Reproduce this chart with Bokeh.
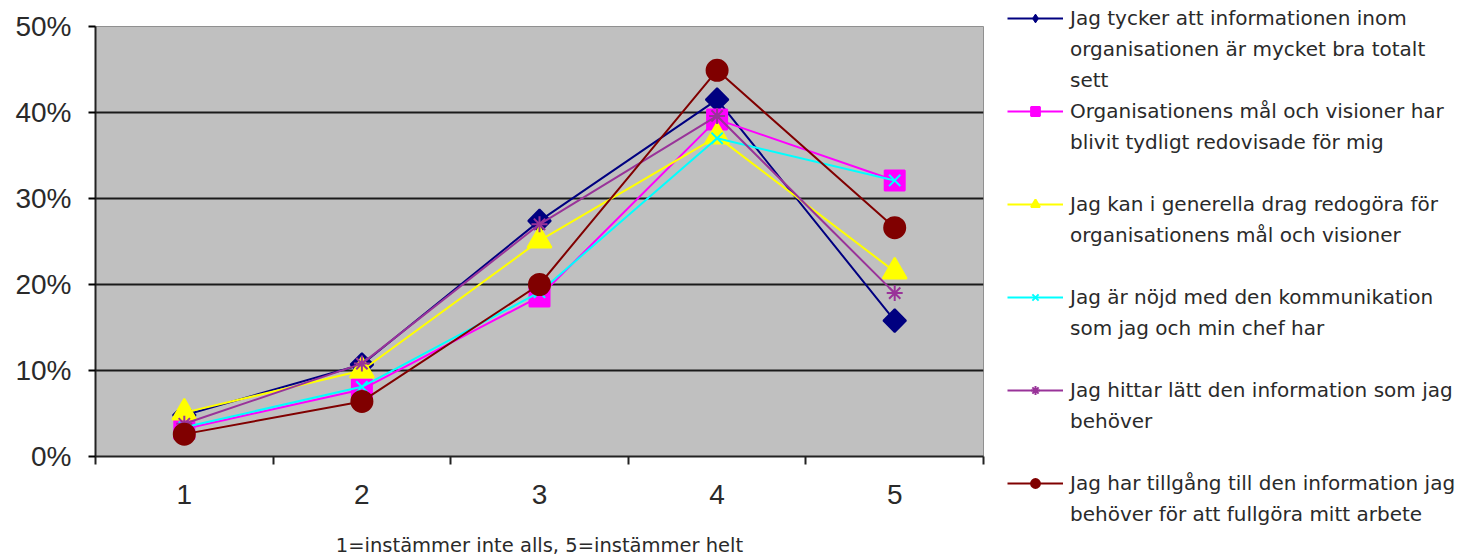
from bokeh.plotting import figure
from bokeh.models import (Range1d, FixedTicker, NumeralTickFormatter, Legend, LegendItem)
from bokeh.embed import file_html
from bokeh.resources import INLINE

categories = [1, 2, 3, 4, 5]
tick_labels = ["1", "2", "3", "4", "5"]

s1 = [0.048, 0.107, 0.274, 0.415, 0.158]
s2 = [0.032, 0.078, 0.186, 0.392, 0.321]
s3 = [0.051, 0.100, 0.251, 0.372, 0.215]
s4 = [0.034, 0.081, 0.191, 0.370, 0.321]
s5 = [0.038, 0.108, 0.270, 0.396, 0.190]
s6 = [0.026, 0.064, 0.200, 0.449, 0.266]

labels = [
    ["Jag tycker att informationen inom", "organisationen är mycket bra totalt", "sett"],
    ["Organisationens mål och visioner har", "blivit tydligt redovisade för mig"],
    ["Jag kan i generella drag redogöra för", "organisationens mål och visioner"],
    ["Jag är nöjd med den kommunikation", "som jag och min chef har"],
    ["Jag hittar lätt den information som jag", "behöver"],
    ["Jag har tillgång till den information jag", "behöver för att fullgöra mitt arbete"],
]

TICK_FONT = "Liberation Sans"
TEXT_FONT = "DejaVu Sans"

W, H = 1464, 555
FRAME_L, FRAME_T, FRAME_W, FRAME_H = 95, 26, 888, 430

p = figure(frame_width=FRAME_W, frame_height=FRAME_H, output_backend="svg", toolbar_location=None,
           x_range=Range1d(0.5, 5.5), y_range=Range1d(0, 0.5),
           min_border_left=FRAME_L, min_border_top=FRAME_T, min_border_bottom=4,
           min_border_right=0)
p.background_fill_color = "#C0C0C0"
p.border_fill_color = "white"
p.outline_line_color = "#909090"
p.outline_line_width = 1

p.xgrid.grid_line_color = None
p.ygrid.grid_line_color = "#1a1a1a"
p.ygrid.grid_line_width = 2
p.ygrid.ticker = FixedTicker(ticks=[0.1, 0.2, 0.3, 0.4, 0.5])

p.yaxis.ticker = FixedTicker(ticks=[0, 0.1, 0.2, 0.3, 0.4, 0.5])
p.yaxis.formatter = NumeralTickFormatter(format="0%")
p.yaxis.major_tick_out = 7
p.yaxis.major_tick_in = 0
p.yaxis.minor_tick_line_color = None
p.yaxis.axis_line_width = 2
p.yaxis.major_tick_line_width = 2
p.yaxis.axis_line_color = "#222222"
p.yaxis.major_label_text_font = TICK_FONT
p.yaxis.major_label_text_font_size = "28px"
p.yaxis.major_label_text_color = "#2a2a2a"
p.yaxis.major_label_standoff = 17

p.xaxis.ticker = FixedTicker(ticks=categories, minor_ticks=[0.5, 1.5, 2.5, 3.5, 4.5, 5.5])
p.xaxis.major_label_overrides = {c: t for c, t in zip(categories, tick_labels)}
p.xaxis.major_tick_line_color = None
p.xaxis.minor_tick_out = 8
p.xaxis.minor_tick_in = 0
p.xaxis.minor_tick_line_width = 2
p.xaxis.minor_tick_line_color = "#222222"
p.xaxis.axis_line_width = 2
p.xaxis.axis_line_color = "#222222"
p.xaxis.major_label_text_font = TICK_FONT
p.xaxis.major_label_text_font_size = "28px"
p.xaxis.major_label_text_color = "#2a2a2a"
p.xaxis.major_label_standoff = 20
p.xaxis.axis_label = "1=instämmer inte alls, 5=instämmer helt"
p.xaxis.axis_label_text_font = TEXT_FONT
p.xaxis.axis_label_text_font_size = "19.5px"
p.xaxis.axis_label_text_font_style = "normal"
p.xaxis.axis_label_text_color = "#2a2a2a"
p.xaxis.axis_label_standoff = 27

series = [
    (s1, "#000080", "square", 16, 45),
    (s2, "#FF00FF", "square", 20, 0),
    (s3, "#FFFF00", "triangle", 24, 0),
    (s4, "#00FFFF", "x", 16, 0),
    (s5, "#993399", "asterisk", 16, 0),
    (s6, "#800000", "circle", 21, 0),
]

# invisible renderer used for continuation lines / gaps in the legend
blank = p.line(x=[], y=[], line_alpha=0)

items = []
for idx, ((vals, col, mk, sz, ang), lab) in enumerate(zip(series, labels)):
    ln = p.line(categories, vals, line_color=col, line_width=2)
    sc = p.scatter(categories, vals, marker=mk, size=sz, angle=ang, angle_units="deg",
                   fill_color=col, line_color=col, line_width=2)
    leg_r = [ln, sc]
    if idx == 0:
        # diamond drawn inside the rotated square, so the legend shows a diamond
        dm = p.scatter(categories, vals, marker="diamond", size=21,
                       fill_color=col, line_color=col, line_width=1)
        leg_r = [ln, dm]
    if idx >= 2:
        items.append(LegendItem(label=" ", renderers=[blank]))
    items.append(LegendItem(label=lab[0], renderers=leg_r))
    for extra in lab[1:]:
        items.append(LegendItem(label=extra, renderers=[blank]))

PITCH = 31
FIRST_LINE_Y = 18
legend_h = len(items) * PITCH
legend_bottom = FIRST_LINE_Y - PITCH / 2 + legend_h
frame_bottom = FRAME_T + FRAME_H

legend = Legend(items=items,
                location=(24, frame_bottom - legend_bottom),
                label_text_font=TEXT_FONT, label_text_font_size="20px",
                label_text_color="#2a2a2a",
                glyph_width=56, glyph_height=22, label_height=PITCH,
                spacing=0, padding=0, margin=0, label_standoff=7,
                border_line_color=None, background_fill_alpha=0)
p.add_layout(legend, "right")
p.min_border_right = W - FRAME_L - FRAME_W

open("out.html", "w").write(file_html(p, INLINE))
